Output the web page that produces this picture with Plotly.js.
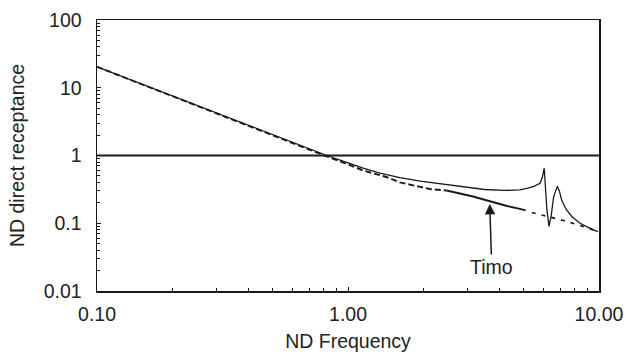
<!DOCTYPE html>
<html>
<head>
<meta charset="utf-8">
<script src="https://cdn.plot.ly/plotly-3.0.1.min.js"></script>
<style>html,body{margin:0;padding:0;background:#fff;}#chart{width:625px;height:356px;}</style>
</head>
<body>
<div id="chart"></div>
<script>
// Upper solid curve (full model, with resonance)
const upperX = [0.1, 0.15, 0.2, 0.3, 0.4, 0.536, 0.6, 0.7, 0.823, 1.0, 1.15, 1.34, 1.61, 1.94, 2.5, 3.0, 3.5, 4.2, 4.84, 5.2, 5.5, 5.82, 5.95, 6.05, 6.12, 6.2, 6.32, 6.45, 6.6, 6.82, 6.95, 7.1, 7.4, 7.79, 8.4, 9.0, 9.48, 9.9];
const upperY = [20.4, 11.4, 7.6, 4.25, 2.81, 1.85, 1.57, 1.26, 1.0, 0.78, 0.65, 0.55, 0.47, 0.42, 0.37, 0.335, 0.315, 0.305, 0.31, 0.33, 0.35, 0.39, 0.48, 0.65, 0.35, 0.16, 0.09, 0.13, 0.25, 0.35, 0.3, 0.22, 0.16, 0.126, 0.1, 0.087, 0.08, 0.075];
// Dashed curve
const dashX = [0.1, 0.15, 0.2, 0.3, 0.4, 0.5, 0.6, 0.7, 0.823, 1.0, 1.15, 1.43, 1.61, 1.9, 2.12, 2.47];
const dashY = [20.4, 11.3, 7.5, 4.15, 2.75, 1.97, 1.52, 1.22, 0.97, 0.74, 0.6, 0.478, 0.4, 0.35, 0.32, 0.304];
// Timo (solid segment)
const timoX = [2.47, 2.8, 3.15, 3.5, 3.79, 4.3, 4.84, 5.1];
const timoY = [0.304, 0.275, 0.248, 0.222, 0.203, 0.18, 0.163, 0.155];
// Extension (sparse dashes)
const extX = [5.4, 6.3, 7.2, 8.3, 9.48, 9.9];
const extY = [0.144, 0.125, 0.11, 0.094, 0.08, 0.076];
// Reference line at 1
const refX = [0.1, 10];
const refY = [1, 1];
// Tick labels
const xTickVals = [0.1, 1, 10];
const xTickText = ["0.10", "1.00", "10.00"];
const yTickVals = [0.01, 0.1, 1, 10, 100];
const yTickText = ["0.01", "0.1", "1", "10", "100"];
// Annotation target
const timoArrowX = 3.67, timoArrowY = 0.193;

const font = "Liberation Sans, Arial, sans-serif";
const fs = 19.5;
const traces = [
  {x: refX, y: refY, mode: 'lines', line: {color: '#1a1a1a', width: 2}, hoverinfo: 'skip'},
  {x: upperX, y: upperY, mode: 'lines', line: {color: '#1a1a1a', width: 1.3}},
  {x: dashX, y: dashY, mode: 'lines', line: {color: '#1a1a1a', width: 1.9, dash: '6px,3px'}},
  {x: timoX, y: timoY, mode: 'lines', line: {color: '#1a1a1a', width: 1.9}},
  {x: extX, y: extY, mode: 'lines', line: {color: '#1a1a1a', width: 1.7, dash: '4px,6px'}}
];
const axisCommon = {
  type: 'log', showgrid: false, zeroline: false,
  showline: true, linecolor: '#1a1a1a', linewidth: 1.5, mirror: true,
  ticks: 'inside', ticklen: 4, tickwidth: 1, tickcolor: '#1a1a1a',
  tickfont: {family: font, size: fs, color: '#222'},
  minor: {ticks: 'inside', ticklen: 3, tickwidth: 1, tickcolor: '#1a1a1a', dtick: 'D1'}
};
const layout = {
  width: 625, height: 356,
  margin: {l: 97, r: 26, t: 20, b: 65},
  paper_bgcolor: '#fff', plot_bgcolor: '#fff',
  showlegend: false,
  xaxis: Object.assign({}, axisCommon, {
    range: [-1, 1], tickmode: 'array', tickvals: xTickVals, ticktext: xTickText,
    ticklabelstandoff: 5,
    title: {text: 'ND Frequency', font: {family: font, size: fs, color: '#222'}, standoff: 10}
  }),
  yaxis: Object.assign({}, axisCommon, {
    range: [-2, 2], tickmode: 'array', tickvals: yTickVals, ticktext: yTickText,
    ticklabelstandoff: 10,
    title: {text: 'ND direct receptance', font: {family: font, size: fs, color: '#222'}, standoff: 14}
  }),
  annotations: [{
    x: Math.log10(timoArrowX), y: Math.log10(timoArrowY), xref: 'x', yref: 'y',
    text: 'Timo', font: {family: font, size: fs, color: '#222'},
    showarrow: true, arrowhead: 2, arrowsize: 1.4, arrowwidth: 1.5, arrowcolor: '#1a1a1a',
    ax: 2, ay: 63, standoff: 0, startstandoff: 0
  }]
};
Plotly.newPlot('chart', traces, layout, {displayModeBar: false, staticPlot: true});
</script>
</body>
</html>
